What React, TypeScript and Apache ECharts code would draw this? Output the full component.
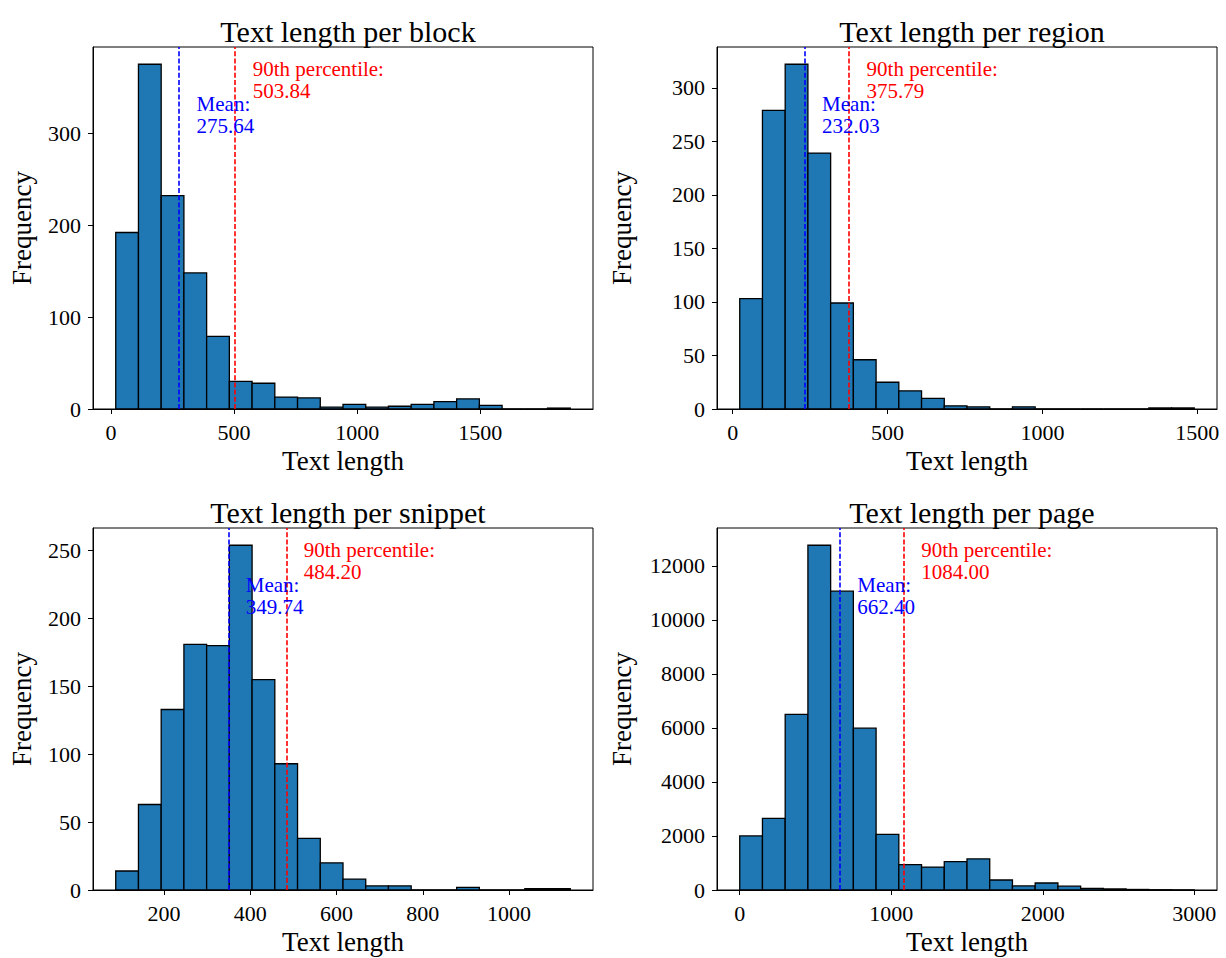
import React, { useEffect, useRef } from "react";
import * as echarts from "echarts";

const FONT = "'Liberation Serif', 'Times New Roman', Times, serif";

// ---- data ----
const titles = [
  "Text length per block",
  "Text length per region",
  "Text length per snippet",
  "Text length per page",
];

// histogram counts (20 bins each)
const blockCounts = [192, 375, 232, 148, 79, 30, 28, 13, 12, 2, 5, 2, 3, 5, 8, 11, 4, 0, 0, 1];
const regionCounts = [103, 279, 322, 239, 99, 46, 25, 17, 10, 3, 2, 0, 2, 0, 0, 0, 0, 0, 1, 1];
const snippetCounts = [14, 63, 133, 181, 180, 254, 155, 93, 38, 20, 8, 3, 3, 0, 0, 2, 0, 0, 1, 1];
const pageCounts = [2000, 2650, 6500, 12760, 11060, 5990, 2060, 940, 850, 1050, 1150, 370, 150, 260, 140, 60, 40, 20, 10, 5];

// data range (min, max) of each histogram
const dataMin = [19, 22.6, 88, 0];
const dataMax = [1866, 1490, 1142, 3000];

// statistics
const means = [275.64, 232.03, 349.74, 662.4];
const p90s = [503.84, 375.79, 484.2, 1084.0];
const textOffsets = [74, 58, 41, 117];

// tick labels
const xTicks = [
  [0, 500, 1000, 1500],
  [0, 500, 1000, 1500],
  [200, 400, 600, 800, 1000],
  [0, 1000, 2000, 3000],
];
const yTicks = [
  [0, 100, 200, 300],
  [0, 50, 100, 150, 200, 250, 300],
  [0, 50, 100, 150, 200, 250],
  [0, 2000, 4000, 6000, 8000, 10000, 12000],
];

const allCounts = [blockCounts, regionCounts, snippetCounts, pageCounts];

// ---- layout ----
const grids = [
  { left: 93, top: 47, width: 500, height: 362, yNameGap: 58 },
  { left: 717, top: 47, width: 500, height: 362, yNameGap: 82 },
  { left: 93, top: 528, width: 500, height: 362, yNameGap: 58 },
  { left: 717, top: 528, width: 500, height: 362, yNameGap: 82 },
];

const plain = (v: number) => String(v);

function buildOption() {
  const option: any = {
    animation: false,
    backgroundColor: "#ffffff",
    textStyle: { fontFamily: FONT },
    title: [],
    grid: [],
    xAxis: [],
    yAxis: [],
    series: [],
  };

  allCounts.forEach((counts, i) => {
    const g = grids[i];
    const lo = dataMin[i];
    const hi = dataMax[i];
    const range = hi - lo;
    const bw = range / counts.length;
    const maxCount = Math.max(...counts);
    const bins = counts.map((c, k) => [lo + k * bw, lo + (k + 1) * bw, c]);

    option.title.push({
      text: titles[i],
      left: g.left + g.width / 2,
      top: g.top - 36,
      textAlign: "center",
      textStyle: { fontFamily: FONT, fontSize: 30, fontWeight: "normal", color: "#000" },
    });

    option.grid.push({
      left: g.left,
      top: g.top,
      width: g.width,
      height: g.height,
      show: true,
      borderColor: "#000",
      borderWidth: 1,
      backgroundColor: "transparent",
    });

    const axisCommon = {
      axisLine: { show: true, onZero: false, lineStyle: { color: "#000", width: 1 } },
      splitLine: { show: false },
    };

    option.xAxis.push({
      ...axisCommon,
      type: "value",
      gridIndex: i,
      min: lo - 0.05 * range,
      max: hi + 0.05 * range,
      name: "Text length",
      nameLocation: "middle",
      nameGap: 38,
      nameTextStyle: { fontFamily: FONT, fontSize: 27, color: "#000" },
      axisTick: { show: true, inside: false, length: 5, customValues: xTicks[i], lineStyle: { color: "#000" } },
      axisLabel: {
        show: true,
        customValues: xTicks[i],
        formatter: plain,
        margin: 12,
        fontFamily: FONT,
        fontSize: 22,
        color: "#000",
      },
    });

    option.yAxis.push({
      ...axisCommon,
      type: "value",
      gridIndex: i,
      min: 0,
      max: maxCount * 1.05,
      name: "Frequency",
      nameLocation: "middle",
      nameGap: g.yNameGap,
      nameTextStyle: { fontFamily: FONT, fontSize: 27, color: "#000" },
      axisTick: { show: true, inside: false, length: 5, customValues: yTicks[i], lineStyle: { color: "#000" } },
      axisLabel: {
        show: true,
        customValues: yTicks[i],
        formatter: plain,
        margin: 12,
        fontFamily: FONT,
        fontSize: 22,
        color: "#000",
      },
    });

    option.series.push({
      type: "custom",
      xAxisIndex: i,
      yAxisIndex: i,
      data: bins,
      encode: { x: [0, 1], y: 2 },
      renderItem: (params: any, api: any) => {
        const p0 = api.coord([api.value(0), api.value(2)]);
        const p1 = api.coord([api.value(1), 0]);
        return {
          type: "rect",
          shape: { x: p0[0], y: p0[1], width: p1[0] - p0[0], height: p1[1] - p0[1] },
          style: { fill: "#1f77b4", stroke: "#000", lineWidth: 1.3 },
        };
      },
      markLine: {
        silent: true,
        symbol: "none",
        label: { show: false },
        data: [
          { xAxis: means[i], lineStyle: { color: "#0000ff", type: [5, 2.2], width: 1.6, opacity: 1 } },
          { xAxis: p90s[i], lineStyle: { color: "#ff0000", type: [5, 2.2], width: 1.6, opacity: 1 } },
        ],
      },
      z: 2,
    });

    const mkText = (x: number, y: number, text: string, color: string) => ({
      type: "scatter",
      xAxisIndex: i,
      yAxisIndex: i,
      symbol: "circle",
      symbolSize: 1,
      itemStyle: { color: "rgba(0,0,0,0)", opacity: 1 },
      silent: true,
      data: [[x, y]],
      label: {
        show: true,
        position: [0, 0],
        align: "left",
        verticalAlign: "bottom",
        offset: [0, 4],
        formatter: text,
        fontFamily: FONT,
        fontSize: 21,
        lineHeight: 22,
        color,
        opacity: 1,
      },
      z: 5,
    });

    option.series.push(
      mkText(means[i] + textOffsets[i], maxCount * 0.8, `Mean:\n${means[i].toFixed(2)}`, "#0000ff")
    );
    option.series.push(
      mkText(p90s[i] + textOffsets[i], maxCount * 0.9, `90th percentile:\n${p90s[i].toFixed(2)}`, "#ff0000")
    );
  });

  return option;
}

export default function App() {
  const ref = useRef<HTMLDivElement>(null);
  useEffect(() => {
    if (!ref.current) return;
    const chart = echarts.init(ref.current, undefined, { renderer: "svg" });
    chart.setOption(buildOption());
    return () => chart.dispose();
  }, []);
  return (
    <div
      ref={ref}
      style={{ position: "fixed", left: 0, top: 0, width: 1226, height: 958, background: "#fff" }}
    />
  );
}
